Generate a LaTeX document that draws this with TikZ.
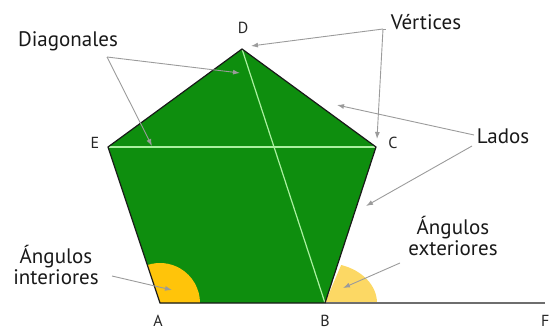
\documentclass[tikz,border=0pt]{standalone}
\usepackage{fontspec}
\setmainfont{PT Sans}
\usetikzlibrary{arrows.meta}
\definecolor{polygreen}{RGB}{14,142,14}
\definecolor{diaggreen}{RGB}{170,240,160}
\definecolor{intyellow}{RGB}{255,196,10}
\definecolor{extyellow}{RGB}{252,216,100}
\definecolor{arrowgray}{RGB}{155,155,155}
\definecolor{basegray}{RGB}{110,110,110}
\begin{document}
\begin{tikzpicture}[x=1pt,y=-1pt,
  lbl/.style={font=\fontsize{21}{19}\selectfont, text=black!90, inner sep=0pt, anchor=base, align=center},
  vlbl/.style={font=\fontsize{16}{18}\selectfont, text=black!85, inner sep=0pt, anchor=base},
  pointer/.style={draw=arrowgray, line width=0.9pt, -{Latex[length=7pt,width=5pt]}},
  feed/.style={draw=arrowgray, line width=0.9pt}
]
\useasboundingbox (0,0) rectangle (549,329);
% vertices
\coordinate (A) at (160,303);
\coordinate (B) at (325,303);
\coordinate (C) at (376,147);
\coordinate (D) at (242,49);
\coordinate (E) at (108,147);
\coordinate (F) at (545,303);
% polygon
\fill[polygreen] (A) -- (B) -- (C) -- (D) -- (E) -- cycle;
% angles
\fill[intyellow] (A) -- ++(40,0) arc[start angle=0, end angle=-108.43, radius=40] -- cycle;
\fill[extyellow] (B) -- ++(52,0) arc[start angle=0, end angle=-71.9, x radius=52, y radius=40] -- cycle;
% diagonals
\draw[diaggreen, line width=1.2pt] (D) -- (B);
\draw[diaggreen, line width=1.2pt] (E) -- (C);
% outline
\draw[basegray, line width=1.3pt] (B) -- (F);
\draw[black!90, line width=1.2pt, line join=miter] (B) -- (C) -- (D) -- (E) -- (A) -- (B);
% vertex labels
\node[vlbl] (lA) at (158,326) {A};
\node[vlbl] (lB) at (325,326) {B};
\node[vlbl] (lC) at (393,148) {C};
\node[vlbl] (lD) at (243,34) {D};
\node[vlbl] (lE) at (95,148) {E};
\node[vlbl, anchor=base west] (lF) at (541,326) {F};
% text labels
\node[lbl] (diag) at (68,47) {Diagonales};
\node[lbl] (vert) at (426,30) {Vértices};
\node[lbl] (lados) at (503,143) {Lados};
\node[lbl] (intA) at (56,284) {Ángulos\\interiores};
\node[lbl] (extA) at (453,255) {Ángulos\\exteriores};
% arrow junctions and tips
\coordinate (jd) at (107,57);
\coordinate (tdD) at (240,73);
\coordinate (tdE) at (152,146);
\coordinate (jv) at (383,29);
\coordinate (tvD) at (251,46);
\coordinate (tvC) at (377,139);
\coordinate (jl1) at (474,135);
\coordinate (jl2) at (472,146);
\coordinate (tl1) at (337,105);
\coordinate (tl2) at (366,206);
\coordinate (ji) at (112,276);
\coordinate (ti) at (172,290);
\coordinate (je) at (400,263);
\coordinate (te) at (343,288);
% arrows
\draw[pointer] (jd) -- (tdD);
\draw[pointer] (jd) -- (tdE);
\draw[feed] (jv) -- ++(3,0);
\draw[pointer] (jv) -- (tvD);
\draw[pointer] (jv) -- (tvC);
\draw[pointer] (jl1) -- (tl1);
\draw[pointer] (jl2) -- (tl2);
\draw[pointer] (ji) -- (ti);
\draw[pointer] (je) -- (te);
\end{tikzpicture}
\end{document}
